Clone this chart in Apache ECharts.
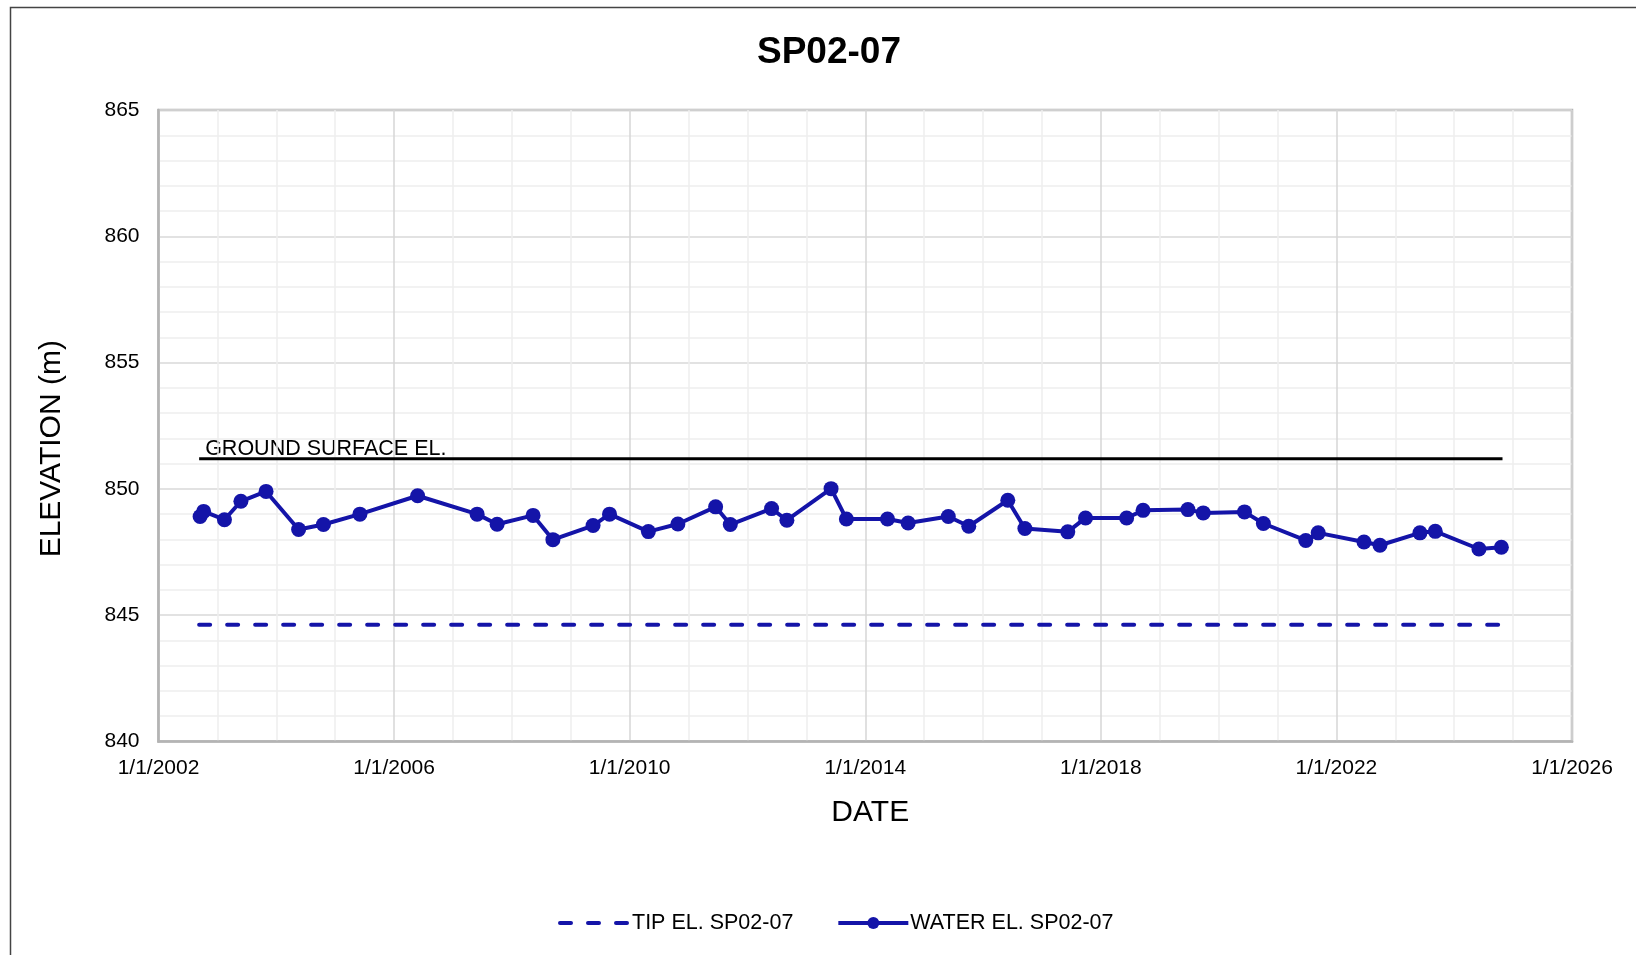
<!DOCTYPE html>
<html>
<head>
<meta charset="utf-8">
<title>SP02-07</title>
<style>
    html, body { margin: 0; padding: 0; background: #fff; }
    #container { width: 1636px; height: 955px; }
</style>
</head>
<body>
<div id="container"></div>

<script type="text/javascript" src="https://cdn.jsdelivr.net/npm/echarts@6/dist/echarts.min.js"></script>
<script type="text/javascript">
    // readings (date, water elevation m)
    var waterDates = [
        '2002-09-16', '2002-10-08', '2003-02-14', '2003-05-27', '2003-10-30',
        '2004-05-19', '2004-10-20', '2005-06-03', '2006-05-27', '2007-05-31',
        '2007-10-02', '2008-05-12', '2008-09-12', '2009-05-19', '2009-08-29',
        '2010-04-27', '2010-10-27', '2011-06-18', '2011-09-17', '2012-05-30',
        '2012-09-02', '2013-06-03', '2013-09-06', '2014-05-19', '2014-09-24',
        '2015-05-31', '2015-10-05', '2016-06-03', '2016-09-17', '2017-06-10',
        '2017-09-28', '2018-06-10', '2018-09-20', '2019-06-25', '2019-09-28',
        '2020-06-10', '2020-10-05', '2021-06-25', '2021-09-10', '2022-06-21',
        '2022-09-28', '2023-06-03', '2023-09-06', '2024-06-03', '2024-10-20'
    ];
    var waterEl = [
        848.91, 849.11, 848.78, 849.51, 849.90,
        848.39, 848.59, 849.00, 849.73, 849.00,
        848.60, 848.95, 847.99, 848.55, 849.00,
        848.31, 848.61, 849.29, 848.59, 849.22,
        848.76, 850.01, 848.81, 848.81, 848.65,
        848.91, 848.52, 849.55, 848.43, 848.30,
        848.85, 848.85, 849.15, 849.18, 849.05,
        849.09, 848.63, 847.96, 848.26, 847.90,
        847.77, 848.26, 848.32, 847.62, 847.69
    ];

    // reference lines
    var refDates = ['2002-09-10', '2024-10-27'];
    var groundEl = 851.19;
    var tipEl = 844.62;

    // axes
    var xStart = '2002-01-01';
    var xEnd = '2026-01-01';
    var yMin = 840;
    var yMax = 865;

    var FONT = 'Liberation Sans, Arial, sans-serif';
    var BLUE = '#1414a8';
    var DAY = 86400000;
    var TIP_DASH = [11, 17];

    function toTime(s) {
        var p = s.split('-');
        return Date.UTC(+p[0], +p[1] - 1, +p[2]);
    }

    var waterData = waterDates.map(function (d, i) { return [toTime(d), waterEl[i]]; });
    var tipData = refDates.map(function (d) { return [toTime(d), tipEl]; });
    var groundData = refDates.map(function (d) { return [toTime(d), groundEl]; });

    var dom = document.getElementById("container");
    var myChart = echarts.init(dom);

    var border = {
        type: 'rect',
        silent: true,
        z: -1,
        shape: { x: 10.5, y: 7.5, width: 1700, height: 1100 },
        style: { fill: 'none', stroke: '#444', lineWidth: 1.5 }
    };

    var option = {
        animation: false,
        backgroundColor: '#ffffff',
        title: {
            text: 'SP02-07',
            left: 757,
            top: 34,
            padding: 0,
            textStyle: { fontFamily: FONT, fontSize: 37, fontWeight: 'bold', color: '#000' }
        },
        legend: {
            data: [
                {
                    name: 'TIP EL. SP02-07',
                    itemStyle: { opacity: 0 },
                    lineStyle: { color: BLUE, width: 4, type: TIP_DASH, cap: 'round' }
                },
                {
                    name: 'WATER EL. SP02-07',
                    lineStyle: { color: BLUE, width: 4 }
                }
            ],
            left: 553,
            top: 907,
            itemWidth: 70,
            itemHeight: 15,
            itemGap: 43,
            textStyle: { fontFamily: FONT, fontSize: 21.5, color: '#000', padding: [0, 0, 0, -3] }
        },
        grid: {
            left: 158.5,
            right: 64,
            top: 110,
            bottom: 213.5,
            show: true,
            borderColor: '#b4b4b4',
            borderWidth: 2.5
        },
        xAxis: {
            type: 'value',
            min: toTime(xStart),
            max: toTime(xEnd),
            interval: 1461 * DAY,
            name: 'DATE',
            nameLocation: 'middle',
            nameGap: 56,
            nameTextStyle: { fontFamily: FONT, fontSize: 30, color: '#000', padding: [0, 0, 0, 10] },
            axisLine: { show: true, lineStyle: { color: '#b4b4b4', width: 2.5 } },
            axisTick: { show: false },
            axisLabel: {
                margin: 16,
                showMinLabel: true,
                showMaxLabel: true,
                fontFamily: FONT, fontSize: 21, color: '#000',
                formatter: function (v) { return '1/1/' + new Date(v + DAY / 2).getUTCFullYear(); }
            },
            splitLine: { show: true, lineStyle: { color: '#d6d6d6', width: 1.5 } },
            minorTick: { show: false, splitNumber: 4 },
            minorSplitLine: { show: true, lineStyle: { color: '#eeeeee', width: 1.5 } }
        },
        yAxis: {
            type: 'value',
            min: yMin,
            max: yMax,
            interval: 5,
            name: 'ELEVATION (m)',
            nameLocation: 'middle',
            nameGap: 92,
            nameTextStyle: { fontFamily: FONT, fontSize: 30, color: '#000', padding: [0, 46, 0, 0] },
            axisLine: { show: true, lineStyle: { color: '#b4b4b4', width: 2.5 } },
            axisTick: { show: false },
            axisLabel: { margin: 19, fontFamily: FONT, fontSize: 21, color: '#000' },
            splitLine: { show: true, lineStyle: { color: '#d9d9d9', width: 1.5 } },
            minorTick: { show: false, splitNumber: 5 },
            minorSplitLine: { show: true, lineStyle: { color: '#eeeeee', width: 1.5 } }
        },
        series: [
            {
                name: 'TIP EL. SP02-07',
                type: 'line',
                data: tipData,
                symbol: 'none',
                color: BLUE,
                lineStyle: { color: BLUE, width: 4, type: TIP_DASH, cap: 'round' },
                z: 3
            },
            {
                name: 'WATER EL. SP02-07',
                type: 'line',
                data: waterData,
                symbol: 'circle',
                symbolSize: 15,
                color: BLUE,
                itemStyle: { color: BLUE },
                lineStyle: { color: BLUE, width: 4 },
                z: 4
            },
            {
                name: 'GROUND SURFACE EL.',
                type: 'line',
                data: groundData,
                symbol: 'none',
                color: '#000',
                lineStyle: { color: '#000', width: 3 },
                z: 3
            }
        ],
        graphic: [border]
    };

    if (option && typeof option === 'object') {
        myChart.setOption(option);
    }

    // label sits just above the left end of the ground surface line
    var p = myChart.convertToPixel({ gridIndex: 0 }, groundData[0]);
    myChart.setOption({
        graphic: [
            border,
            {
                type: 'text',
                silent: true,
                x: p[0] + 6,
                y: p[1] - 10,
                style: {
                    text: 'GROUND SURFACE EL.',
                    fontFamily: FONT,
                    fontSize: 21.5,
                    fill: '#000',
                    align: 'left',
                    verticalAlign: 'middle'
                }
            }
        ]
    });
</script>
</body>
</html>
